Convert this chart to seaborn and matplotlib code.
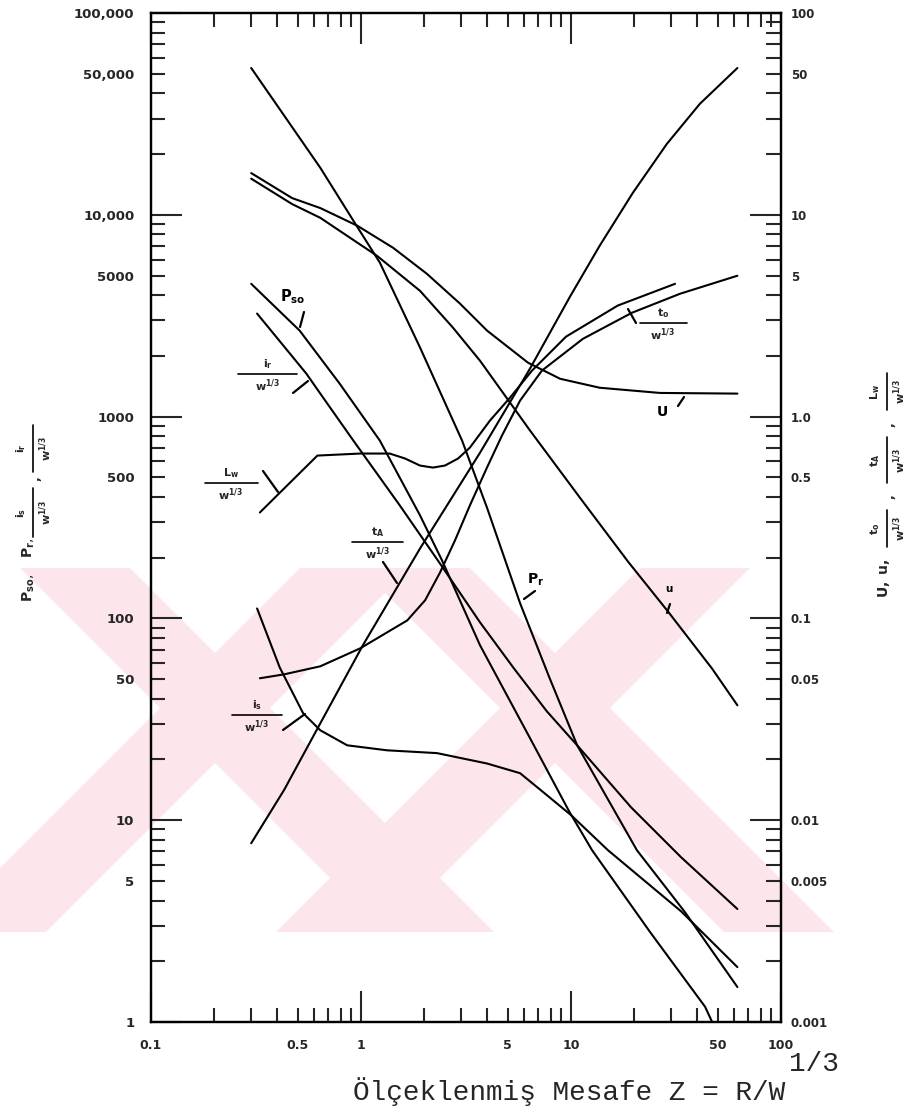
import matplotlib
matplotlib.use("Agg")
import matplotlib.pyplot as plt
import seaborn as sns
from matplotlib.patches import Polygon
from matplotlib.lines import Line2D

# ---- blast-wave parameters vs scaled distance Z = R / W^(1/3) ----
# left axis quantities
z_pr = [0.30, 0.64, 0.94, 1.23, 1.91, 3.03, 3.98, 5.72, 7.85, 10.7, 20.6, 34.9, 62]
p_r = [53400, 17100, 9020, 5790, 2200, 760, 354, 119, 51.6, 23.5, 7.1, 3.5, 1.49]

z_pso = [0.30, 0.51, 0.79, 1.23, 1.91, 2.43, 3.69, 6.38, 9.78, 12.6, 23.8, 43.5, 47]
p_so = [4550, 2670, 1460, 760, 324, 194, 73.5, 25.5, 11.1, 7.1, 2.79, 1.19, 1.0]

z_ir = [0.32, 0.55, 0.64, 0.92, 1.53, 2.43, 3.69, 5.35, 7.68, 10.7, 19.3, 33.4, 62]
i_r = [3240, 1630, 1300, 760, 363, 181, 95.5, 56.5, 34.6, 23.5, 11.6, 6.56, 3.63]

z_is = [0.32, 0.41, 0.53, 0.64, 0.86, 1.33, 2.30, 3.98, 5.72, 7.68, 10.0, 15.0, 33.4, 62]
i_s = [112, 57.2, 33.9, 27.9, 23.5, 22.2, 21.5, 19.1, 17.1, 13.3, 10.6, 7.1, 3.54, 1.87]

# right axis quantities
z_U = [0.30, 0.47, 0.64, 0.96, 1.42, 2.06, 2.96, 3.98, 6.24, 8.87, 13.7, 26.5, 62]
U = [16.1, 12.1, 10.8, 8.83, 6.87, 5.10, 3.63, 2.67, 1.85, 1.54, 1.39, 1.31, 1.30]

z_u = [0.30, 0.47, 0.64, 1.19, 1.91, 2.74, 3.69, 6.38, 11.2, 18.7, 29.0, 46.9, 62]
u = [15.1, 11.3, 9.66, 6.27, 4.20, 2.76, 1.89, 0.853, 0.388, 0.191, 0.108, 0.0565, 0.0371]

z_ta = [0.30, 0.43, 0.64, 1.02, 1.91, 3.69, 6.38, 9.89, 13.7, 19.7, 28.6, 41.1, 62]
t_a = [0.00769, 0.0141, 0.0302, 0.0735, 0.222, 0.663, 1.73, 3.93, 7.03, 12.85, 22.45, 35.5, 53.4]

z_t0 = [0.33, 0.43, 0.64, 0.99, 1.66, 2.02, 2.38, 2.80, 3.30, 3.98, 4.69, 5.72, 7.27, 11.4, 19.5, 33.0, 62]
t_0 = [0.0505, 0.0528, 0.0579, 0.0710, 0.0977, 0.123, 0.169, 0.243, 0.363, 0.559, 0.805,
       1.20, 1.69, 2.43, 3.27, 4.06, 4.99]

z_lw = [0.33, 0.62, 0.99, 1.37, 1.62, 1.91, 2.20, 2.51, 2.90, 3.30, 4.11, 5.12, 6.52, 9.47, 16.7, 31.3]
l_w = [0.335, 0.641, 0.656, 0.656, 0.620, 0.572, 0.559, 0.572, 0.620, 0.702, 0.955, 1.24,
       1.69, 2.49, 3.55, 4.55]

# ---- tick labels ----
x_major = [0.1, 1, 10, 100]
x_major_lbl = ["0.1", "1", "10", "100"]
x_five_lbl = ["0.5", "5", "50"]
yl_major = [1, 10, 100, 1000, 10000, 100000]
yl_major_lbl = ["1", "10", "100", "1000", "10,000", "100,000"]
yl_five_lbl = ["5", "50", "500", "5000", "50,000"]
yr_major = [0.001, 0.01, 0.1, 1, 10, 100]
yr_major_lbl = ["0.001", "0.01", "0.1", "1.0", "10", "100"]
yr_five_lbl = ["0.005", "0.05", "0.5", "5", "50"]

sns.set_style("white")
plt.rcParams["font.family"] = ["DejaVu Sans"]

W, H = 915, 1113
fig = plt.figure(figsize=(W / 100, H / 100), dpi=100)
fig.patch.set_facecolor("white")


def fx(px):
    return px / W


def fy(py):
    return 1 - py / H


# faint background watermark band
band_top, band_bot = 568, 932
bars = [((20, 130), (384, 494)), ((360, 470), (724, 834)),
        ((300, 410), (-64, 46)), ((640, 750), (276, 386))]
for (t0, t1), (b0, b1) in bars:
    poly = Polygon([(fx(t0), fy(band_top)), (fx(t1), fy(band_top)),
                    (fx(b1), fy(band_bot)), (fx(b0), fy(band_bot))],
                   closed=True, transform=fig.transFigure, facecolor="#fce6ec",
                   edgecolor="none", zorder=-5)
    fig.add_artist(poly)

ax = fig.add_axes([fx(151), fy(1022), fx(781) - fx(151), fy(13) - fy(1022)])
ax.patch.set_alpha(0)
ax.set_xscale("log")
ax.set_yscale("log")
ax2 = ax.twinx()
ax2.set_yscale("log")
ax2.patch.set_alpha(0)

line_kw = dict(color="black", linewidth=1.5, estimator=None, sort=False, legend=False)
for zz, vv in [(z_pr, p_r), (z_pso, p_so), (z_ir, i_r), (z_is, i_s)]:
    sns.lineplot(x=zz, y=vv, ax=ax, **line_kw)
for zz, vv in [(z_U, U), (z_u, u), (z_ta, t_a), (z_t0, t_0), (z_lw, l_w)]:
    sns.lineplot(x=zz, y=vv, ax=ax2, **line_kw)
ax.set_xlim(0.1, 100)
ax.set_ylim(1, 100000)
ax2.set_ylim(0.001, 100)


# ---- ticks ----
def minors(lo_exp, hi_exp):
    return [m * 10.0 ** e for e in range(lo_exp, hi_exp) for m in range(2, 10)]


def minor_labels(lo_exp, hi_exp, five):
    return [five[e - lo_exp] if m == 5 else "" for e in range(lo_exp, hi_exp) for m in range(2, 10)]


ax.set_xticks(x_major)
ax.set_xticklabels(x_major_lbl)
ax.set_xticks(minors(-1, 2), minor=True)
ax.set_xticklabels(minor_labels(-1, 2, x_five_lbl), minor=True)
ax.set_yticks(yl_major)
ax.set_yticklabels(yl_major_lbl)
ax.set_yticks(minors(0, 5), minor=True)
ax.set_yticklabels(minor_labels(0, 5, yl_five_lbl), minor=True)
ax2.set_yticks(yr_major)
ax2.set_yticklabels(yr_major_lbl)
ax2.set_yticks(minors(-3, 2), minor=True)
ax2.set_yticklabels(minor_labels(-3, 2, yr_five_lbl), minor=True)

ax.tick_params(axis="x", which="major", direction="in", length=22, width=1.5,
               top=True, bottom=True, labelsize=9, pad=12)
ax.tick_params(axis="x", which="minor", direction="in", length=10, width=1.5,
               top=True, bottom=True, labelsize=9, pad=12)
ax.tick_params(axis="y", which="major", direction="in", length=22, width=1.5,
               left=True, right=False, labelsize=9.5, pad=12)
ax.tick_params(axis="y", which="minor", direction="in", length=10, width=1.5,
               left=True, right=False, labelsize=9.5, pad=12)
ax2.tick_params(axis="y", which="major", direction="in", length=22, width=1.5,
                left=False, right=True, labelsize=8.5, pad=7)
ax2.tick_params(axis="y", which="minor", direction="in", length=11, width=1.5,
                left=False, right=True, labelsize=8.5, pad=7)
for a in (ax, ax2):
    for lbl in a.get_xticklabels(which="both") + a.get_yticklabels(which="both"):
        lbl.set_fontweight("bold")
    for sp in a.spines.values():
        sp.set_linewidth(1.6)
        sp.set_color("black")

# ---- curve labels ----
BF = dict(ha="center", va="center", fontweight="bold", color="black")
W13 = r"$\mathbf{w^{1/3}}$"


def lead(x0, y0, x1, y1, lw=1.6):
    fig.add_artist(Line2D([fx(x0), fx(x1)], [fy(y0), fy(y1)], transform=fig.transFigure,
                          color="black", linewidth=lw))


def frac(xc, ybar, x0, x1, num, fs=8):
    fig.text(fx(xc), fy(ybar - 3), num, ha="center", va="bottom", fontsize=fs)
    lead(x0, ybar, x1, ybar, lw=1.2)
    fig.text(fx(xc), fy(ybar + 3), W13, ha="center", va="top", fontsize=fs)


fig.text(fx(293), fy(297), r"$\mathbf{P_{so}}$", fontsize=10.5, **BF)
lead(300, 327, 304, 312)

frac(268, 374, 238, 297, r"$\mathbf{i_r}$")
lead(293, 393, 308, 381)

frac(231, 483, 205, 258, r"$\mathbf{L_w}$")
lead(263, 471, 278, 492)

frac(378, 542, 352, 403, r"$\mathbf{t_A}$")
lead(383, 562, 397, 583)

frac(257, 715, 232, 282, r"$\mathbf{i_s}$")
lead(283, 730, 305, 714)

fig.text(fx(536), fy(580), r"$\mathbf{P_r}$", fontsize=10, **BF)
lead(524, 599, 535, 591)

fig.text(fx(669), fy(589), "u", fontsize=7.5, **BF)
lead(667, 613, 670, 604)

frac(663, 323, 640, 687, r"$\mathbf{t_o}$")
lead(628, 309, 636, 323)

fig.text(fx(662), fy(412), "U", fontsize=10, **BF)
lead(678, 406, 684, 397)


# ---- axis titles (vertical, built from pieces) ----
def vtext(x, y, s, fs):
    fig.text(fx(x), fy(y), s, rotation=90, ha="center", va="center", fontsize=fs)


def vfrac(xbar, y0, y1, num, fs=8):
    lead(xbar, y0, xbar, y1, lw=1.2)
    ym = (y0 + y1) / 2
    vtext(xbar - 12, ym, num, fs)
    vtext(xbar + 13, ym, W13, fs)


# left: P_so, P_r, i_s/w^1/3, i_r/w^1/3
vtext(29, 588, r"$\mathbf{P_{so}},$", 10)
vtext(29, 548, r"$\mathbf{P_r},$", 10)
vfrac(33, 488, 537, r"$\mathbf{i_s}$")
vtext(38, 479, r"$\mathbf{,}$", 9)
vfrac(33, 425, 472, r"$\mathbf{i_r}$")

# right: U, u, t_o/w^1/3, t_A/w^1/3, L_w/w^1/3
vtext(884, 578, r"$\mathbf{U,\ u,}$", 10)
vfrac(887, 510, 547, r"$\mathbf{t_o}$")
vtext(892, 497, r"$\mathbf{,}$", 9)
vfrac(887, 437, 483, r"$\mathbf{t_A}$")
vtext(892, 425, r"$\mathbf{,}$", 9)
vfrac(887, 373, 410, r"$\mathbf{L_w}$")

fig.text(fx(353), fy(1100), "Ölçeklenmiş Mesafe Z = R/W", family="Liberation Mono",
         fontsize=20, ha="left", va="baseline")
fig.text(fx(789), fy(1071), "1/3", family="Liberation Mono", fontsize=20,
         ha="left", va="baseline")

fig.savefig("out.png", dpi=100, facecolor="white")
